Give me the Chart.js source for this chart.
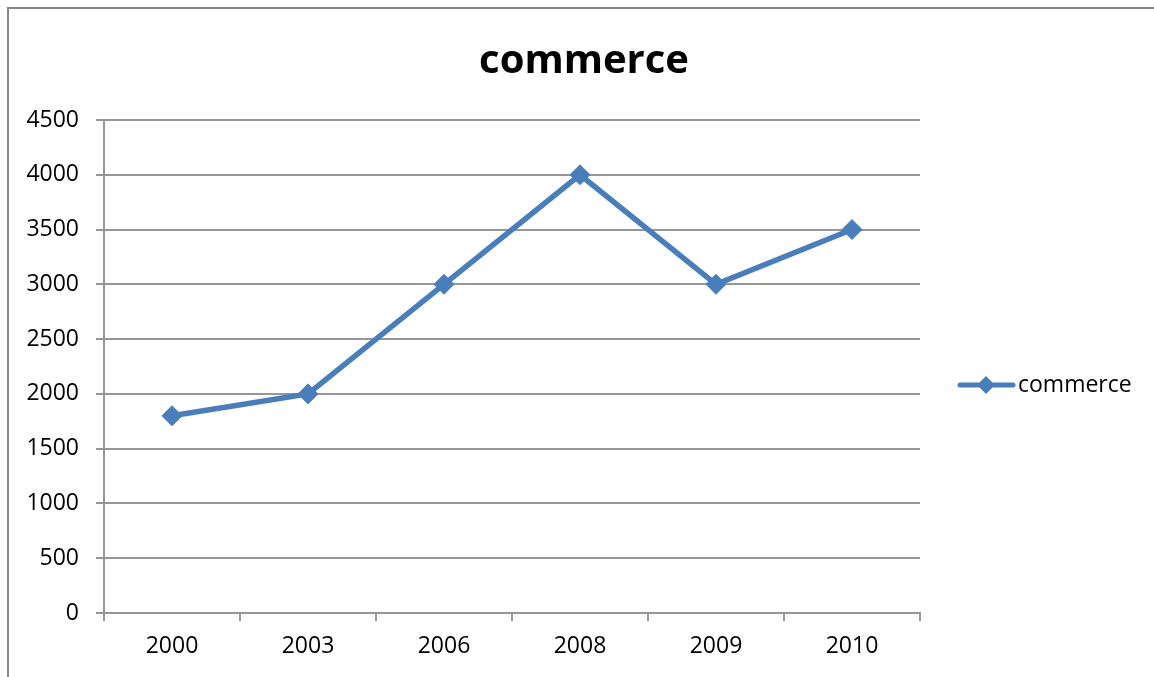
<!DOCTYPE html>
<html>
<head>
<meta charset="utf-8">
<script src="https://cdn.jsdelivr.net/npm/chart.js@4.4.0/dist/chart.umd.min.js"></script>
<style>
  body { margin: 0; background: #fff; }
  canvas { display: block; }
</style>
</head>
<body>
<canvas id="myChart" width="1154" height="677"></canvas>
<script>
const years = ['2000', '2003', '2006', '2008', '2009', '2010'];
const commerce = [1800, 2000, 3000, 4000, 3000, 3500];
const seriesName = 'commerce';
const chartTitle = 'commerce';

const lineColor = '#4a7ebb';
const gridColor = '#979797';
const fontFamily = '"Open Sans", sans-serif';

// outer frame, title and legend, drawn by hand like the Excel original
const framePlugin = {
  id: 'frame',
  beforeDraw(chart) {
    const ctx = chart.ctx;
    ctx.save();
    ctx.strokeStyle = '#878787';
    ctx.lineWidth = 2;
    ctx.strokeRect(8, 8, 1300, 800);
    ctx.restore();
  },
  afterDraw(chart) {
    const ctx = chart.ctx;
    ctx.save();
    ctx.fillStyle = '#000';
    ctx.font = 'bold 40px ' + fontFamily;
    ctx.textAlign = 'center';
    ctx.textBaseline = 'alphabetic';
    ctx.fillText(chartTitle, 584, 73);

    const y = 385;
    ctx.strokeStyle = lineColor;
    ctx.lineWidth = 5;
    ctx.lineCap = 'round';
    ctx.beginPath();
    ctx.moveTo(960, y);
    ctx.lineTo(1013, y);
    ctx.stroke();
    ctx.fillStyle = lineColor;
    ctx.beginPath();
    ctx.moveTo(986 - 9, y);
    ctx.lineTo(986, y - 9);
    ctx.lineTo(986 + 9, y);
    ctx.lineTo(986, y + 9);
    ctx.closePath();
    ctx.fill();
    ctx.fillStyle = '#000';
    ctx.font = '23px ' + fontFamily;
    ctx.textAlign = 'left';
    ctx.textBaseline = 'middle';
    ctx.fillText(seriesName, 1018, y);
    ctx.restore();
  }
};

const ctx = document.getElementById('myChart').getContext('2d');

const myChart = new Chart(ctx, {
  type: 'line',
  data: {
    labels: years,
    datasets: [{
      label: seriesName,
      data: commerce,
      borderColor: lineColor,
      backgroundColor: lineColor,
      borderWidth: 5.5,
      pointStyle: 'rectRot',
      pointRadius: 10,
      pointBorderWidth: 1,
      tension: 0
    }]
  },
  options: {
    responsive: false,
    animation: false,
    layout: {
      padding: { top: 120, right: 234, bottom: 0, left: 0 }
    },
    plugins: {
      legend: { display: false },
      tooltip: { enabled: false },
      title: { display: false }
    },
    scales: {
      x: {
        offset: true,
        grid: {
          offset: true,
          drawOnChartArea: false,
          drawTicks: true,
          tickLength: 8,
          lineWidth: 2,
          color: gridColor
        },
        border: { color: gridColor, width: 2 },
        ticks: {
          color: '#000',
          padding: 12,
          font: { family: fontFamily, size: 23 }
        },
        afterFit(scale) { scale.height = 64; }
      },
      y: {
        min: 0,
        max: 4500,
        grid: {
          color: gridColor,
          tickLength: 8,
          lineWidth: 2
        },
        border: { color: gridColor, width: 2 },
        ticks: {
          stepSize: 500,
          color: '#000',
          padding: 17,
          font: { family: fontFamily, size: 23 },
          callback: (value) => String(value)
        },
        afterFit(scale) { scale.width = 104; }
      }
    }
  },
  plugins: [framePlugin]
});
</script>
</body>
</html>
